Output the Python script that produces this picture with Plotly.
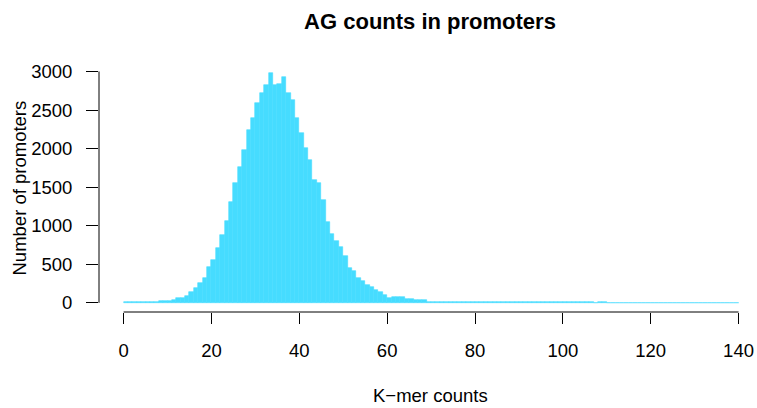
import plotly.graph_objects as go

# Histogram of AG k-mer counts (bin width 1, bins [k, k+1))
bin_starts = list(range(0, 140))
counts = [
    8, 7, 8, 9, 7, 10, 9, 11, 22, 30,
    26, 43, 65, 66, 95, 146, 190, 255, 319, 470,
    552, 711, 879, 1060, 1302, 1552, 1767, 1987, 2237, 2401,
    2586, 2726, 2830, 2978, 2826, 2838, 2924, 2718, 2625, 2392,
    2198, 2004, 1853, 1591, 1556, 1332, 1050, 892, 797, 720,
    608, 448, 418, 319, 280, 229, 203, 166, 145, 105,
    65, 75, 73, 72, 52, 52, 37, 35, 43, 17,
    16, 17, 15, 13, 12, 10, 11, 9, 12, 10,
    8, 9, 11, 9, 13, 12, 13, 12, 8, 7,
    8, 6, 7, 10, 11, 7, 6, 7, 10, 11,
    6, 5, 6, 5, 5, 5, 5, 4, 5, 5,
    4, 4, 4, 4, 4, 4, 3, 4, 4, 3,
    4, 3, 3, 4, 3, 3, 3, 3, 4, 3,
    3, 3, 2, 3, 3, 3, 2, 3, 2, 3,
]
x_ticks = [0, 20, 40, 60, 80, 100, 120, 140]
y_ticks = [0, 500, 1000, 1500, 2000, 2500, 3000]

title_text = "AG counts in promoters"
x_label = "K\u2212mer counts"
y_label = "Number of promoters"

bar_color = "#46DCFF"
FONT = "Liberation Sans, Arial, sans-serif"

centers = [b + 0.5 for b in bin_starts]

fig = go.Figure()
fig.add_trace(go.Bar(
    x=centers, y=counts, width=1.0,
    marker=dict(color=bar_color, line=dict(color=bar_color, width=0.6)),
    hoverinfo="skip",
))

W, H = 757, 408
ml, mr, mt, mb = 99, 0, 64, 96
plot_h = H - mt - mb

fig.update_layout(
    width=W, height=H,
    margin=dict(l=ml, r=mr, t=mt, b=mb, pad=0),
    paper_bgcolor="white", plot_bgcolor="white",
    showlegend=False, bargap=0,
    font=dict(family=FONT, size=18.5, color="black"),
    title=dict(text="<b>" + title_text + "</b>", x=430 / W, xref="container",
               xanchor="center", y=1 - 21 / H, yref="container", yanchor="middle",
               font=dict(family=FONT, size=22, color="black")),
    xaxis=dict(range=[-5.6, 144.2], tickvals=x_ticks, ticktext=[str(v) for v in x_ticks],
               ticks="outside", ticklen=11, tickwidth=1, tickcolor="black",
               showgrid=False, zeroline=False, showline=False,
               ticklabelstandoff=11, fixedrange=True),
    yaxis=dict(range=[-119, 3097], tickvals=y_ticks, ticktext=[str(v) for v in y_ticks],
               ticks="outside", ticklen=12, tickwidth=1, tickcolor="black",
               showgrid=False, zeroline=False, showline=False,
               ticklabelstandoff=10, fixedrange=True),
    shapes=[
        dict(type="line", xref="x", yref="paper", x0=x_ticks[0], x1=x_ticks[-1], y0=0, y1=0,
             line=dict(color="black", width=1)),
        dict(type="line", xref="paper", yref="y", x0=0, x1=0, y0=y_ticks[0], y1=y_ticks[-1],
             line=dict(color="black", width=1)),
    ],
    annotations=[
        dict(text=x_label, xref="paper", yref="paper",
             x=(430 - ml) / (W - ml - mr), y=(H - mb - 395) / plot_h,
             showarrow=False, xanchor="center", yanchor="middle",
             font=dict(family=FONT, size=18.5, color="black")),
        dict(text=y_label, xref="paper", yref="paper",
             x=(18.5 - ml) / (W - ml - mr), y=(H - mb - 188) / plot_h,
             showarrow=False, xanchor="center", yanchor="middle", textangle=-90,
             font=dict(family=FONT, size=18.5, color="black")),
    ],
)

fig.write_html("out.html")
